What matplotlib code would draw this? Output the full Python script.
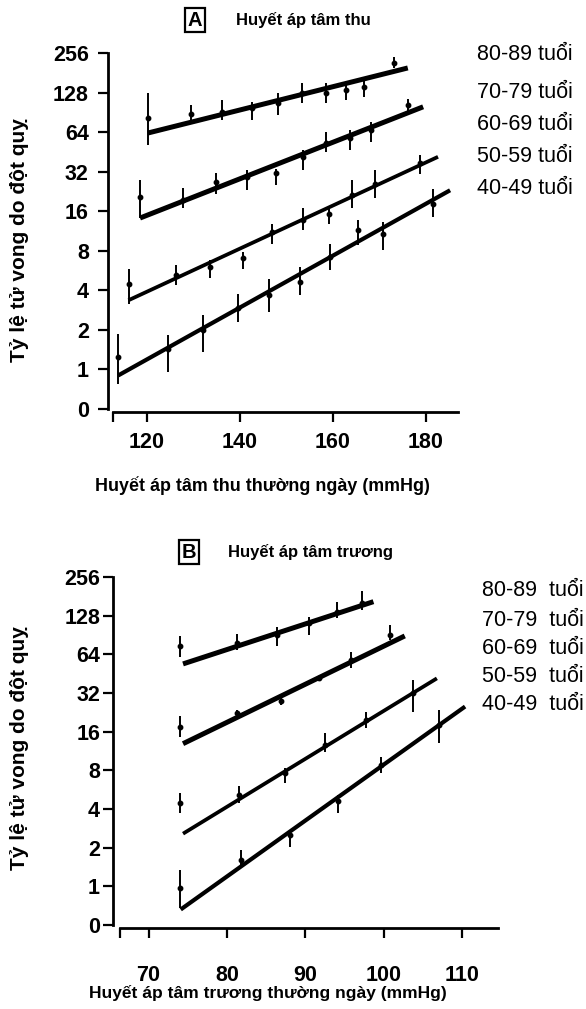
# Tỷ lệ tử vong do đột quỵ theo huyết áp thường ngày và nhóm tuổi
import matplotlib.pyplot as plt

plt.rcParams['font.family'] = ['Liberation Sans', 'DejaVu Sans']

W, H = 586, 1009

# nhãn chung
age_labels = ['80-89 tuổi', '70-79 tuổi', '60-69 tuổi', '50-59 tuổi', '40-49 tuổi']
y_ticks = [0.5, 1, 2, 4, 8, 16, 32, 64, 128, 256]
y_tick_labels = ['0', '1', '2', '4', '8', '16', '32', '64', '128', '256']

# ---- A: huyết áp tâm thu ----
sys_ticks = [120, 140, 160, 180]
sys_x = [
    [120.3, 129.4, 136.1, 142.6, 148.1, 153.3, 158.4, 162.7, 166.6, 173.1],
    [118.5, 127.8, 134.8, 141.6, 147.7, 153.5, 158.5, 163.7, 168.2, 176.2],
    [116.1, 126.2, 133.5, 140.6, 146.8, 153.5, 159.1, 164.2, 169.0, 178.7],
    [113.8, 124.6, 132.1, 139.5, 146.3, 152.9, 159.4, 165.3, 170.7, 181.6],
]
sys_rate = [
    [82, 88, 91, 97, 106, 127, 127, 134, 141, 215],
    [20.6, 19.4, 26.8, 29.2, 31, 41.5, 52.5, 57.3, 66.3, 103],
    [4.5, 5.2, 6.0, 7.0, 11.1, 13.6, 15.3, 21.2, 26, 37],
    [1.24, 1.44, 1.98, 2.91, 3.66, 4.63, 7.17, 11.5, 10.8, 18.3],
]
sys_lo = [
    [51, 79, 79, 79, 86, 106, 106, 112, 118, 197],
    [14.2, 16.9, 21.8, 23.1, 25.3, 32.9, 45.3, 46.7, 53.9, 91],
    [3.16, 4.37, 4.93, 5.86, 9.07, 11.5, 12.9, 16.8, 20, 30.9],
    [0.78, 0.95, 1.35, 2.3, 2.73, 3.66, 5.68, 8.8, 8.05, 14.5],
]
sys_hi = [
    [127, 103, 112, 108, 127, 151, 151, 154, 168, 239],
    [27.6, 24, 31, 32.9, 33.8, 46.7, 64.6, 66, 76.6, 115],
    [5.86, 6.2, 6.8, 7.83, 12.9, 16.8, 16.8, 27.6, 32.9, 42.8],
    [1.87, 1.82, 2.58, 3.78, 4.92, 6.0, 9.07, 13.6, 13.3, 23.8],
]
sys_fit_x = [[120.2, 176.1], [118.5, 179.4], [116.0, 182.6], [113.8, 185.2]]
sys_fit_y = [[63, 197], [14.2, 99.7], [3.36, 41.5], [0.9, 23.1]]

# ---- B: huyết áp tâm trương ----
dia_ticks = [70, 80, 90, 100, 110]
dia_x = [
    [74.0, 81.3, 86.4, 90.5, 94.0, 97.3],
    [74.0, 81.3, 86.9, 91.7, 95.9, 100.8],
    [74.0, 81.5, 87.4, 92.5, 97.7, 103.8],
    [74.0, 81.8, 88.1, 94.2, 99.7, 107.1],
]
dia_rate = [
    [74.4, 78.1, 90.5, 111.5, 137.5, 160],
    [17.5, 22.5, 27.5, 41.6, 57.9, 90.5],
    [4.49, 5.16, 7.6, 12.6, 19.8, 31.9],
    [0.97, 1.61, 2.52, 4.58, 8.83, 18.1],
]
dia_lo = [
    [61.4, 69.3, 74.4, 90.5, 122, 141.7],
    [14.6, 21.5, 26, 40, 49.9, 82.6],
    [3.7, 4.44, 6.37, 11.2, 17.0, 22.9],
    [0.68, 1.39, 2.04, 3.7, 7.6, 13.0],
]
dia_hi = [
    [89, 92.2, 105, 125.5, 164, 200],
    [21, 23.5, 29, 43, 67.2, 108],
    [5.3, 6.0, 8.3, 15.6, 22.9, 40.5],
    [1.35, 1.93, 2.75, 5.16, 10.2, 23.6],
]
dia_fit_x = [[74.4, 98.7], [74.4, 102.7], [74.4, 106.8], [74.1, 110.4]]
dia_fit_y = [[53.9, 164.5], [12.9, 89], [2.57, 41.6], [0.66, 25.1]]

line_w = [3.6, 3.6, 2.7, 3.0]


def px_box(left, top, right, bottom):
    # pixel -> figure fraction
    return [left / W, 1 - bottom / H, (right - left) / W, (bottom - top) / H]


def draw_panel(ax, xs, rates, lo, hi, fit_x, fit_y, xlim, xstart, xticks, xpad, ypad):
    for i in range(len(xs)):
        err = [[r - l for r, l in zip(rates[i], lo[i])],
               [h - r for r, h in zip(rates[i], hi[i])]]
        ax.errorbar(xs[i], rates[i], yerr=err, fmt='o', ms=3.2, color='black',
                    ecolor='black', elinewidth=1.4, capsize=0)
        ax.plot(fit_x[i], fit_y[i], color='black', lw=line_w[i],
                solid_capstyle='butt')
    ax.set_yscale('log', base=2)
    ax.set_ylim(0.5, 256)
    ax.set_xlim(*xlim)
    ax.set_yticks(y_ticks)
    ax.set_yticklabels(y_tick_labels)
    ax.minorticks_off()
    ax.set_xticks([xstart] + xticks)
    ax.set_xticklabels([''] + [str(t) for t in xticks])
    for s in ['top', 'right']:
        ax.spines[s].set_visible(False)
    ax.spines['left'].set_linewidth(2)
    ax.spines['bottom'].set_linewidth(2)
    ax.spines['bottom'].set_position(('outward', 2.2))
    ax.spines['bottom'].set_bounds(xstart, xlim[1])
    ax.tick_params(axis='both', direction='out', width=1.6, length=7.5,
                   labelsize=15.5, colors='black')
    ax.tick_params(axis='x', pad=xpad)
    ax.tick_params(axis='y', pad=ypad)
    for lab in ax.get_xticklabels() + ax.get_yticklabels():
        lab.set_fontweight('bold')
    ax.patch.set_alpha(0)


fig = plt.figure(figsize=(W / 100, H / 100), dpi=100)

# panel A
axA = fig.add_axes(px_box(107.5, 53, 458, 409))
draw_panel(axA, sys_x, sys_rate, sys_lo, sys_hi, sys_fit_x, sys_fit_y,
           (111.5, 186.9), 112.7, sys_ticks, 7, 6)

# panel B
axB = fig.add_axes(px_box(113.3, 577, 498, 925))
draw_panel(axB, dia_x, dia_rate, dia_lo, dia_hi, dia_fit_x, dia_fit_y,
           (65.5, 114.6), 66.3, dia_ticks, 19, 2)

box = dict(boxstyle='square,pad=0.14', fc='white', ec='black', lw=1.6)
fig.text(195 / W, 1 - 20 / H, 'A', fontsize=14.5, fontweight='bold', ha='center', va='center', bbox=box)
fig.text(236 / W, 1 - 20 / H, 'Huyết áp tâm thu', fontsize=12, fontweight='bold', va='center')
fig.text(189 / W, 1 - 552 / H, 'B', fontsize=14.5, fontweight='bold', ha='center', va='center', bbox=box)
fig.text(228 / W, 1 - 552 / H, 'Huyết áp tâm trương', fontsize=12, fontweight='bold', va='center')

# nhãn trục
fig.text(262 / W, 1 - 486 / H, 'Huyết áp tâm thu thường ngày (mmHg)', fontsize=12.9,
         fontweight='bold', ha='center', va='center')
fig.text(268 / W, 1 - 993 / H, 'Huyết áp tâm trương thường ngày (mmHg)', fontsize=12.5,
         fontweight='bold', ha='center', va='center')
fig.text(20 / W, 1 - 240 / H, 'Tỷ lệ tử vong do đột quỵ', fontsize=15, fontweight='bold',
         rotation=90, ha='center', va='center')
fig.text(20 / W, 1 - 748 / H, 'Tỷ lệ tử vong do đột quỵ', fontsize=15, fontweight='bold',
         rotation=90, ha='center', va='center')

# nhãn nhóm tuổi
label_y_A = [55, 93, 124, 157, 188]
label_y_B = [590, 620, 649, 677, 704]
for lab, ya, yb in zip(age_labels, label_y_A, label_y_B):
    fig.text(477 / W, 1 - ya / H, lab, fontsize=15.5, va='center')
    fig.text(482 / W, 1 - yb / H, lab.replace(' ', '  '), fontsize=15.5, va='center')

fig.savefig('out.png', dpi=100, facecolor='white')
